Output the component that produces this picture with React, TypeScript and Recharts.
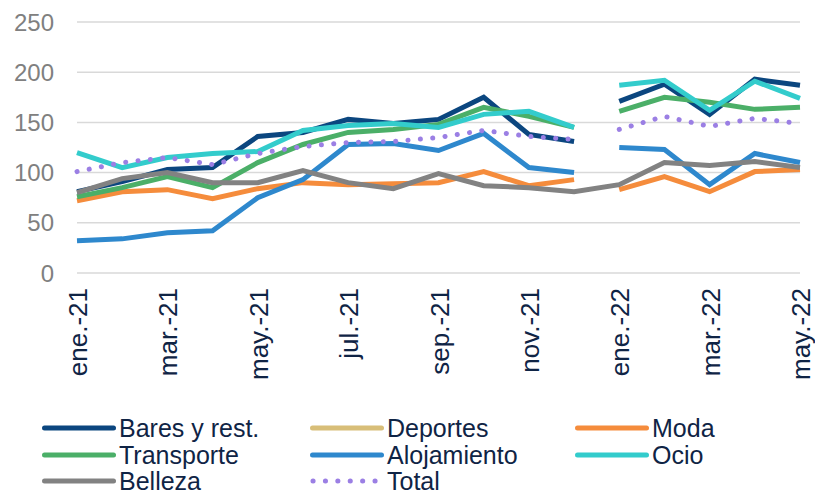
import { CartesianGrid, Line, LineChart, XAxis, YAxis } from "recharts";

const months = [
  "ene.-21", "feb.-21", "mar.-21", "abr.-21", "may.-21", "jun.-21", "jul.-21", "ago.-21",
  "sep.-21", "oct.-21", "nov.-21", "dic.-21", "ene.-22", "feb.-22", "mar.-22", "abr.-22", "may.-22",
];
const yTicks = [0, 50, 100, 150, 200, 250];

const bares = [81, 91, 103, 105, 136, 140, 153, 149, 153, 175, 138, 131, 171, 188, 158, 193, 187];
const deportes: (number | null)[] = months.map(() => null);
const moda = [72, 81, 83, 74, 84, 90, 88, 89, 90, 101, 87, 93, 83, 96, 81, 101, 103];
const transporte = [76, 85, 96, 85, 110, 128, 140, 143, 148, 165, 156, 145, 161, 175, 170, 163, 165];
const alojamiento = [32, 34, 40, 42, 75, 93, 128, 129, 122, 139, 105, 100, 125, 123, 88, 119, 110];
const ocio = [120, 105, 115, 119, 121, 142, 147, 149, 145, 158, 161, 145, 187, 192, 162, 191, 174];
const belleza = [80, 94, 100, 90, 90, 102, 90, 84, 99, 87, 85, 81, 88, 110, 107, 111, 105];
const total = [101, 110, 115, 108, 119, 126, 130, 131, 135, 142, 136, 133, 143, 156, 146, 154, 149];

// first month of the second segment (lines break between dic.-21 and ene.-22)
const SPLIT = 12;

const SERIES = [
  { key: "bares", name: "Bares y rest.", values: bares, color: "#0B467F", gap: true },
  { key: "deportes", name: "Deportes", values: deportes, color: "#D8BE78", gap: true },
  { key: "moda", name: "Moda", values: moda, color: "#F58C3C", gap: true },
  { key: "transporte", name: "Transporte", values: transporte, color: "#4BAF68", gap: true },
  { key: "alojamiento", name: "Alojamiento", values: alojamiento, color: "#2E88CD", gap: true },
  { key: "ocio", name: "Ocio", values: ocio, color: "#33CCCC", gap: true },
  { key: "belleza", name: "Belleza", values: belleza, color: "#828282", gap: false },
  { key: "total", name: "Total", values: total, color: "#9B7FE4", gap: true, dotted: true },
];

const data = months.map((m, i) => {
  const row: Record<string, string | number | null> = { m };
  SERIES.forEach((s) => {
    if (s.gap) {
      row[s.key + "A"] = i < SPLIT ? s.values[i] : null;
      row[s.key + "B"] = i >= SPLIT ? s.values[i] : null;
    } else {
      row[s.key] = s.values[i];
    }
  });
  return row;
});

const FONT = '"Liberation Sans", Arial, sans-serif';
const NAVY_TEXT = "#0F2445";

function XTick({ x, y, payload }: any) {
  const cx = x + 1;
  return (
    <text
      x={cx}
      y={y}
      transform={`rotate(-90 ${cx} ${y})`}
      textAnchor="end"
      dominantBaseline="central"
      fill={NAVY_TEXT}
      fontSize={26}
    >
      {payload.value}
    </text>
  );
}

function lineProps(s: (typeof SERIES)[number]) {
  return {
    type: "linear" as const,
    stroke: s.color,
    strokeWidth: 5,
    dot: false,
    activeDot: false,
    connectNulls: false,
    isAnimationActive: false,
    strokeDasharray: s.dotted ? "0.1 12.3" : undefined,
    strokeLinecap: s.dotted ? ("round" as const) : ("butt" as const),
  };
}

const LEGEND_COLS = [42, 310, 575];
const LEGEND_ROWS = [428, 455, 481];

function Legend() {
  return (
    <>
      {SERIES.map((s, i) => {
        const left = LEGEND_COLS[i % 3];
        const top = LEGEND_ROWS[Math.floor(i / 3)];
        return (
          <div key={s.key} style={{ position: "absolute", left, top: top - 13, height: 26, display: "flex", alignItems: "center" }}>
            <svg width={74} height={10} style={{ display: "block" }}>
              {s.dotted ? (
                <line x1={3} y1={5} x2={71} y2={5} stroke={s.color} strokeWidth={5} strokeLinecap="round" strokeDasharray="0.1 12.3" />
              ) : (
                <line x1={2.5} y1={5} x2={71.5} y2={5} stroke={s.color} strokeWidth={5} strokeLinecap="round" />
              )}
            </svg>
            <span style={{ marginLeft: 3, fontSize: 25, color: NAVY_TEXT, lineHeight: "26px", height: 26, whiteSpace: "nowrap" }}>{s.name}</span>
          </div>
        );
      })}
    </>
  );
}

export default function App() {
  return (
    <div style={{ position: "absolute", left: 0, top: 0, width: 815, height: 494, background: "#fff", fontFamily: FONT, overflow: "hidden" }}>
      <LineChart width={815} height={400} data={data} margin={{ top: 22, right: 15, left: 0, bottom: 0 }}>
        <CartesianGrid stroke="#D9D9D9" strokeWidth={1.5} vertical={false} />
        <XAxis
          dataKey="m"
          interval={1}
          axisLine={false}
          tickLine={false}
          tickMargin={9}
          height={127}
          tick={<XTick />}
        />
        <YAxis
          domain={[0, 250]}
          ticks={yTicks}
          width={77}
          axisLine={false}
          tickLine={false}
          tickMargin={17}
          tick={{ fill: "#808080", fontSize: 24 }}
        />
        {SERIES.flatMap((s) =>
          s.gap
            ? [
                <Line key={s.key + "A"} dataKey={s.key + "A"} name={s.name} {...lineProps(s)} />,
                <Line key={s.key + "B"} dataKey={s.key + "B"} name={s.name} {...lineProps(s)} />,
              ]
            : [<Line key={s.key} dataKey={s.key} name={s.name} {...lineProps(s)} />]
        )}
      </LineChart>
      <Legend />
    </div>
  );
}
